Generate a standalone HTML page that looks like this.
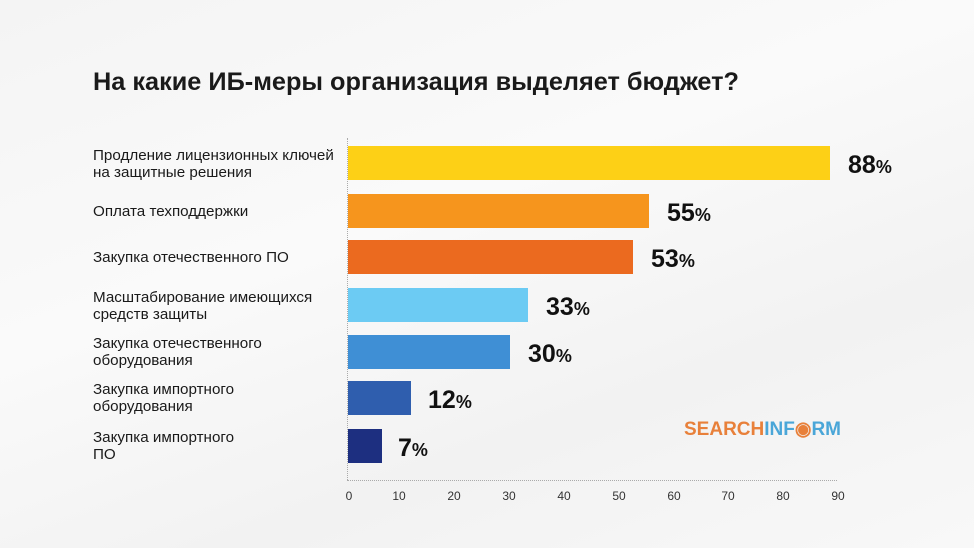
<!DOCTYPE html>
<html><head><meta charset="utf-8"><style>
body{margin:0;width:974px;height:548px;overflow:hidden;background:linear-gradient(160deg,#f4f4f4 0%,#fafafa 40%,#f2f2f2 70%,#f8f8f8 100%);font-family:"Liberation Sans",sans-serif;position:relative}
.a{position:absolute}
.t{left:93px;top:68px;font-size:25.3px;font-weight:bold;color:#1a1a1a}
.l{left:93px;font-size:15.2px;color:#1a1a1a;line-height:17px}
.b{left:348px;height:34px}
.v{font-size:25px;font-weight:bold;color:#111}
.v span{font-size:18px}
.tk{top:489px;font-size:12px;color:#333;width:30px;text-align:center}
</style></head><body>
<div class="a t">На какие ИБ-меры организация выделяет бюджет?</div>
<div class="a" style="left:347px;top:138px;height:342px;border-left:1px dotted #aaa"></div>
<div class="a" style="left:347px;top:480px;width:490px;border-top:1px dotted #aaa"></div>

<div class="a l" style="top:147px">Продление лицензионных ключей<br>на защитные решения</div>
<div class="a l" style="top:203px">Оплата техподдержки</div>
<div class="a l" style="top:249px">Закупка отечественного ПО</div>
<div class="a l" style="top:289px">Масштабирование имеющихся<br>средств защиты</div>
<div class="a l" style="top:335px">Закупка отечественного<br>оборудования</div>
<div class="a l" style="top:381px">Закупка импортного<br>оборудования</div>
<div class="a l" style="top:429px">Закупка импортного<br>ПО</div>

<div class="a b" style="top:146px;width:482px;background:#fdd016"></div>
<div class="a b" style="top:194px;width:301px;background:#f6951d"></div>
<div class="a b" style="top:240px;width:285px;background:#eb6a1f"></div>
<div class="a b" style="top:288px;width:180px;background:#6ccbf3"></div>
<div class="a b" style="top:335px;width:162px;background:#3f8fd5"></div>
<div class="a b" style="top:381px;width:63px;background:#2f5eae"></div>
<div class="a b" style="top:429px;width:34px;background:#1d2f80"></div>

<div class="a v" style="left:848px;top:151px">88<span>%</span></div>
<div class="a v" style="left:667px;top:199px">55<span>%</span></div>
<div class="a v" style="left:651px;top:245px">53<span>%</span></div>
<div class="a v" style="left:546px;top:293px">33<span>%</span></div>
<div class="a v" style="left:528px;top:340px">30<span>%</span></div>
<div class="a v" style="left:428px;top:386px">12<span>%</span></div>
<div class="a v" style="left:398px;top:434px">7<span>%</span></div>

<div class="a" style="left:684px;top:418px;font-size:19px;font-weight:bold"><span style="color:#e8803a">SEARCH</span><span style="color:#4aa6d8">INF<span style="color:#e8803a">◉</span>RM</span></div>

<div class="a tk" style="left:334px">0</div>
<div class="a tk" style="left:384px">10</div>
<div class="a tk" style="left:439px">20</div>
<div class="a tk" style="left:494px">30</div>
<div class="a tk" style="left:549px">40</div>
<div class="a tk" style="left:604px">50</div>
<div class="a tk" style="left:659px">60</div>
<div class="a tk" style="left:713px">70</div>
<div class="a tk" style="left:768px">80</div>
<div class="a tk" style="left:823px">90</div>
</body></html>
